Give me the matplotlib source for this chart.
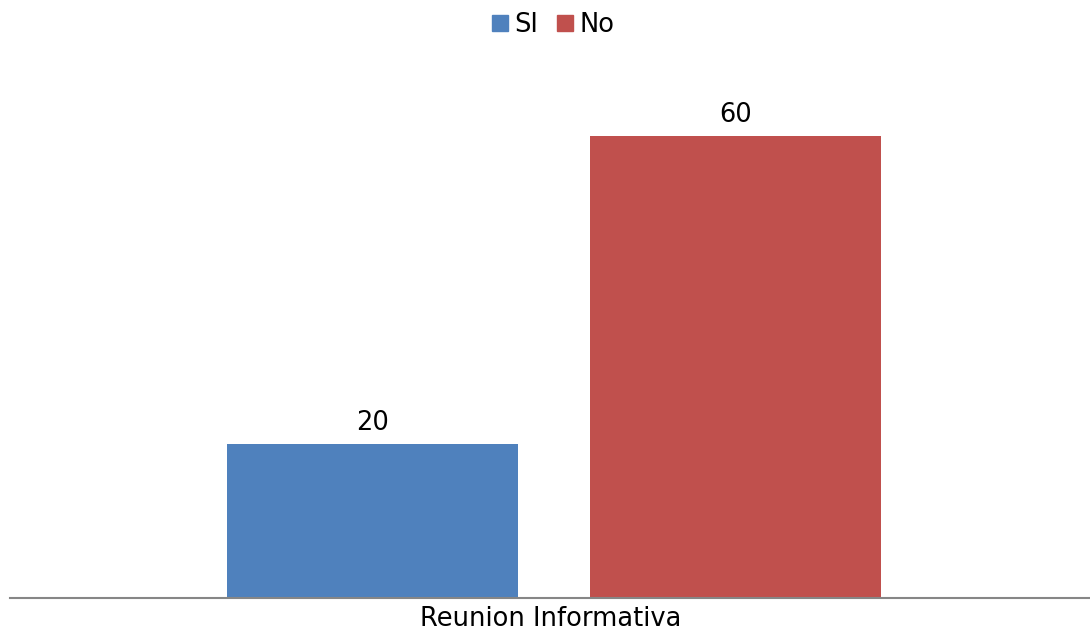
from matplotlib import pyplot
from matplotlib.lines import Line2D

categories = ['Reunion Informativa']
series = ['SI', 'No']
values = [20, 60]
colors = ['#4F81BD', '#C0504D']

fig = pyplot.figure(figsize=(10.9, 6.32), dpi=100)
ax = fig.add_axes([10 / 1090, 34 / 632, 1080 / 1090, 539 / 632])

bar_width = 0.2694
gap = 0.0667
for i, (name, val, col) in enumerate(zip(series, values, colors)):
    offset = (i - 0.5) * (bar_width + gap)
    x = 0.5 + offset + 0.0037
    ax.bar(x, val, width=bar_width, color=col, label=name, zorder=2)
    ax.text(x, val + 1.0, '%d' % val, ha='center', va='bottom', fontsize=18.5)

ax.set_xlim(0, 1)
ax.set_ylim(0, 70)
ax.set_yticks([])
ax.set_xticks([0.501])
ax.set_xticklabels(categories, fontsize=18.5)
ax.tick_params(axis='x', length=0, pad=6)
for side in ('top', 'right', 'left'):
    ax.spines[side].set_visible(False)
ax.spines['bottom'].set_color('#868686')
ax.spines['bottom'].set_linewidth(1.5)

handles = [Line2D([], [], marker='s', linestyle='none', markersize=11.5,
                  markerfacecolor=c, markeredgecolor=c) for c in colors]
fig.legend(handles, series, loc='upper center', bbox_to_anchor=(0.506, 1.017),
           ncol=2, frameon=False, fontsize=18.5, handletextpad=0.1,
           columnspacing=0.6, handlelength=0.9)

fig.savefig('out.png', dpi=100)
